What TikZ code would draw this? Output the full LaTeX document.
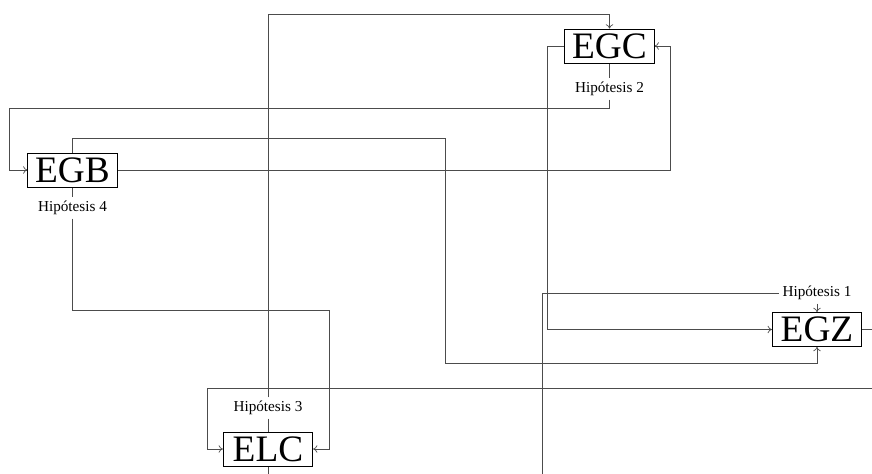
\documentclass[tikz,border=0pt]{standalone}
\usepackage{fontspec}
\setmainfont{Liberation Serif}
\usetikzlibrary{backgrounds,arrows.meta}
\begin{document}
\begin{tikzpicture}[x=0.75pt,y=-0.75pt,
  box/.style={draw=black,line width=0.6pt,fill=white,font=\fontsize{28}{30}\selectfont,minimum width=67pt,minimum height=25.5pt,inner sep=0pt},
  hyp/.style={fill=white,font=\fontsize{11.4}{13}\selectfont,inner sep=2.5pt},
  wire/.style={draw=black!70,line width=0.5pt},
  arr/.style={wire,-{To[length=3.2pt,width=5.5pt]}}]
\useasboundingbox (0,0) rectangle (872,474);
\node[box] (egc) at (609.5,46) {EGC};
\node[box] (egb) at (72.5,170) {EGB};
\node[box] (egz) at (817,329.5) {EGZ};
\node[box] (elc) at (268,449) {ELC};
\node[hyp] (h2) at (609.5,89) {Hipótesis 2};
\node[hyp] (h4) at (72.5,208) {Hipótesis 4};
\node[hyp] (h1) at (817,293) {Hipótesis 1};
\node[hyp] (h3) at (268,408) {Hipótesis 3};
\begin{pgfonlayer}{background}
\begin{scope}
\clip (0,0) rectangle (872,474);
\draw[arr] (h3.north) -- (h3.north |- 0,14) -| (egc.north);
\draw[wire] (h3.south) -- (elc.north);
\draw[wire] (elc.south) -- ++(0,40) -| (h1.west -| 542,0) -- (h1.west);
\draw[arr] (h1.south) -- (egz.north);
\draw[arr] (egc.west) -- ++(-17,0) |- (egz.west);
\draw[arr] (egb.east) -- (egb.east -| 670,0) |- (egc.east);
\draw[wire] (egc.south) -- (h2.north);
\draw[arr] (h2.south) |- (9,108) |- (egb.west);
\draw[arr] (egb.north) |- (445,138) |- (egz.south |- 0,363) -- (egz.south);
\draw[wire] (egb.south) -- (h4.north);
\draw[arr] (h4.south) |- (329,310) |- (elc.east);
\draw[arr] (egz.east) -- ++(30,0) |- (207,388.5) |- (elc.west);
\end{scope}
\end{pgfonlayer}
\end{tikzpicture}
\end{document}
